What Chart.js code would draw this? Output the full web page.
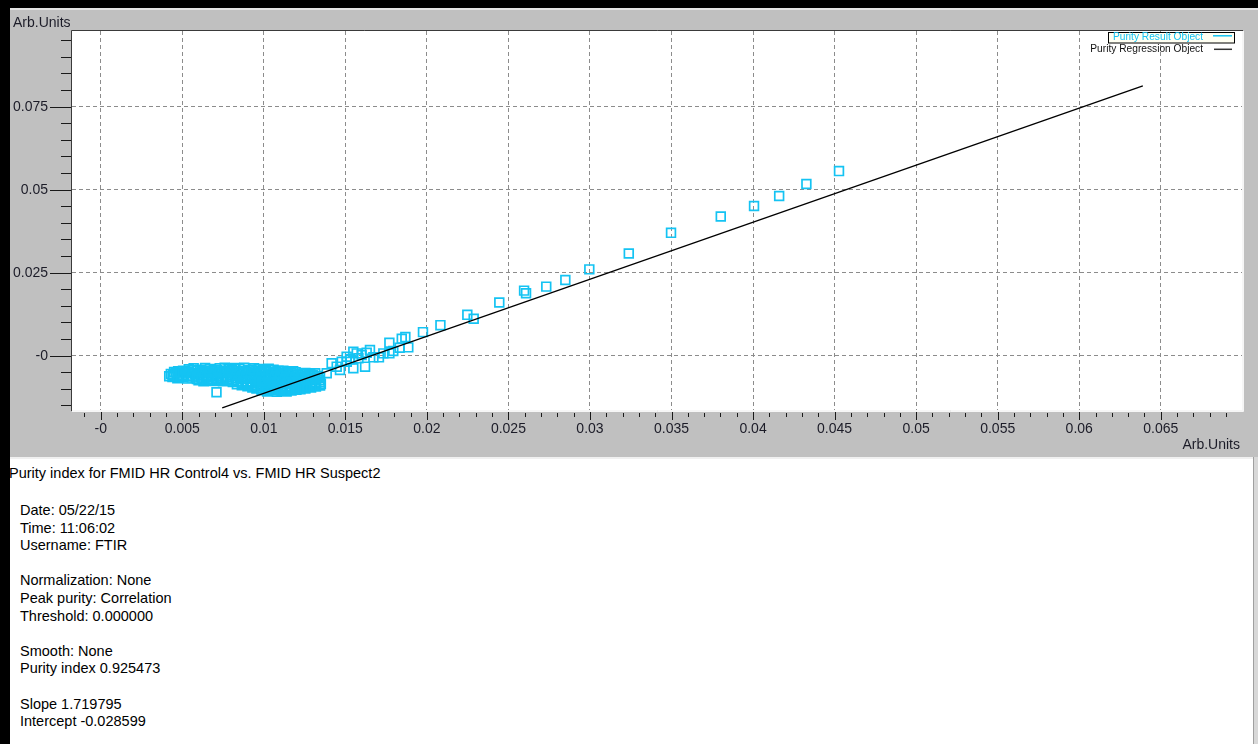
<!DOCTYPE html>
<html>
<head>
<meta charset="utf-8">
<script src="https://cdn.jsdelivr.net/npm/chart.js@4.4.1/dist/chart.umd.min.js"></script>
<style>
  html, body { margin: 0; padding: 0; }
  body { width: 1258px; height: 744px; background: #000; position: relative; overflow: hidden;
         font-family: "Liberation Sans", Arial, sans-serif; }
  #plotPanel { position: absolute; left: 10px; top: 8px; width: 1248px; height: 449px; background: #c0c0c0; }
  #plotPanel canvas { position: absolute; left: 0; top: 0; }
  #plotPanel .hl { position: absolute; left: 0; top: 0; width: 100%; height: 2px; background: #e4e4e4; }
  #infoPanel { position: absolute; left: 10px; top: 457px; width: 1243px; height: 287px; background: #fff;
               border-top: 2px solid #f0f0f0; box-sizing: border-box; color: #000; font-size: 14.5px; line-height: 17.6px; }
  #infoRight { position: absolute; left: 1253px; top: 457px; width: 5px; height: 287px; background: #d8d8d8; border-left: 1px solid #a0a0a0; }
  #infoPanel .head { position: absolute; left: -1px; top: 6px; white-space: nowrap; }
  #infoPanel .body { position: absolute; left: 10px; top: 43px; white-space: nowrap; }
</style>
</head>
<body>
<div id="plotPanel"><div class="hl"></div><canvas id="purityChart" width="1248" height="449"></canvas></div>
<div id="infoPanel">
  <div class="head">Purity index for FMID HR Control4 vs. FMID HR Suspect2</div>
  <div class="body">
    Date: 05/22/15<br>
    Time: 11:06:02<br>
    Username: FTIR<br>
    <br>
    Normalization: None<br>
    Peak purity: Correlation<br>
    Threshold: 0.000000<br>
    <br>
    Smooth: None<br>
    Purity index 0.925473<br>
    <br>
    Slope 1.719795<br>
    Intercept -0.028599
  </div>
</div>
<div id="infoRight"></div>
<script>
// axis ticks
const xTickValues = [0, 0.005, 0.01, 0.015, 0.02, 0.025, 0.03, 0.035, 0.04, 0.045, 0.05, 0.055, 0.06, 0.065];
const xTickLabels = ["-0", "0.005", "0.01", "0.015", "0.02", "0.025", "0.03", "0.035", "0.04", "0.045", "0.05", "0.055", "0.06", "0.065"];
const yTickValues = [0, 0.025, 0.05, 0.075];
const yTickLabels = ["-0", "0.025", "0.05", "0.075"];

// dense cluster of the purity result object (one line per row of overlapping squares)
const clusterX = [
  0.0054, 0.0057, 0.0061, 0.0064, 0.0067, 0.0070, 0.0073, 0.0076, 0.0079, 0.0082, 0.0085, 0.0088, 0.0091, 0.0094, 0.0097, 0.0100, 0.0103, 0.0106, 0.0109, 0.0112, 0.0115, 0.0118,
  0.00475, 0.00505, 0.00535, 0.00565, 0.00595, 0.00625, 0.00655, 0.00685, 0.00715, 0.00745, 0.00775, 0.00805, 0.00835, 0.00865, 0.00895, 0.00925, 0.00955, 0.00985, 0.01015, 0.01045, 0.01075, 0.01105, 0.01135, 0.01165, 0.01195, 0.01225, 0.01255, 0.01285, 0.01315,
  0.0043, 0.0046, 0.0049, 0.0052, 0.0055, 0.0058, 0.0061, 0.0064, 0.0067, 0.0070, 0.0073, 0.0076, 0.0079, 0.0082, 0.0085, 0.0088, 0.0091, 0.0094, 0.0097, 0.0100, 0.0103, 0.0106, 0.0109, 0.0112, 0.0115, 0.0118, 0.0121, 0.0124, 0.0127, 0.0130, 0.0133,
  0.00445, 0.00475, 0.00505, 0.00535, 0.00565, 0.00595, 0.00625, 0.00655, 0.00685, 0.00715, 0.00745, 0.00775, 0.00805, 0.00835, 0.00865, 0.00895, 0.00925, 0.00955, 0.00985, 0.01015, 0.01045, 0.01075, 0.01105, 0.01135, 0.01165, 0.01195, 0.01225, 0.01255, 0.01285, 0.01315, 0.01345,
  0.0044, 0.0047, 0.0050, 0.0053, 0.0056, 0.0059, 0.0062, 0.0065, 0.0068, 0.0071, 0.0074, 0.0077, 0.0080, 0.0083, 0.0086, 0.0089, 0.0092, 0.0095, 0.0098, 0.0101, 0.0104, 0.0107, 0.0110, 0.0113, 0.0116, 0.0119, 0.0122, 0.0125, 0.0128, 0.0131, 0.0134,
  0.00655, 0.00685, 0.00715, 0.00745, 0.00775, 0.00805, 0.00835, 0.00865, 0.00895, 0.00925, 0.00955, 0.00985, 0.01015, 0.01045, 0.01075, 0.01105, 0.01135, 0.01165, 0.01195, 0.01225, 0.01255, 0.01285, 0.01315, 0.01345,
  0.0060, 0.0063, 0.0066, 0.0069, 0.0072, 0.0075, 0.0078, 0.0081, 0.0084, 0.0087, 0.0090, 0.0093, 0.0096, 0.0099, 0.0102, 0.0105, 0.0108, 0.0111, 0.0114, 0.0117, 0.0120, 0.0123, 0.0126, 0.0129, 0.0132, 0.0135,
  0.00835, 0.00865, 0.00895, 0.00925, 0.00955, 0.00985, 0.01015, 0.01045, 0.01075, 0.01105, 0.01135, 0.01165, 0.01195, 0.01225, 0.01255, 0.01285, 0.01315, 0.01345,
  0.0090, 0.0093, 0.0096, 0.0099, 0.0102, 0.0105, 0.0108, 0.0111, 0.0114, 0.0117, 0.0120, 0.0123, 0.0126, 0.0129, 0.0132,
  0.00955, 0.00985, 0.01015, 0.01045, 0.01075, 0.01105, 0.01135, 0.01165, 0.01195, 0.01225, 0.01255,
  0.0099, 0.0102, 0.0105, 0.0108, 0.0111, 0.0114, 0.0117, 0.0120,
  0.0071, 0.0042, 0.0045
];
const clusterY = [
  -0.0041, -0.0038, -0.0042, -0.0037, -0.0040, -0.0043, -0.0038, -0.0036, -0.0041, -0.0037, -0.0039, -0.0036, -0.0042, -0.0038, -0.0040, -0.0044, -0.0039, -0.0042, -0.0045, -0.0045, -0.0048, -0.0047,
  -0.0047, -0.0045, -0.0048, -0.0044, -0.0046, -0.0049, -0.0045, -0.0047, -0.0044, -0.0048, -0.0046, -0.0043, -0.0047, -0.0045, -0.0048, -0.0044, -0.0046, -0.0049, -0.0045, -0.0048, -0.0050, -0.0047, -0.0051, -0.0053, -0.0050, -0.0054, -0.0052, -0.0055, -0.0053,
  -0.0055, -0.0051, -0.0054, -0.0050, -0.0053, -0.0056, -0.0052, -0.0054, -0.0051, -0.0055, -0.0053, -0.0050, -0.0054, -0.0052, -0.0055, -0.0051, -0.0053, -0.0056, -0.0052, -0.0054, -0.0057, -0.0053, -0.0055, -0.0058, -0.0054, -0.0057, -0.0059, -0.0056, -0.0060, -0.0058, -0.0061,
  -0.0059, -0.0061, -0.0058, -0.0062, -0.0060, -0.0063, -0.0059, -0.0061, -0.0058, -0.0062, -0.0060, -0.0063, -0.0059, -0.0061, -0.0064, -0.0060, -0.0062, -0.0059, -0.0063, -0.0061, -0.0064, -0.0062, -0.0065, -0.0063, -0.0066, -0.0064, -0.0067, -0.0065, -0.0068, -0.0066, -0.0067,
  -0.0064, -0.0068, -0.0065, -0.0069, -0.0066, -0.0070, -0.0067, -0.0065, -0.0069, -0.0066, -0.0068, -0.0065, -0.0069, -0.0067, -0.0070, -0.0066, -0.0068, -0.0071, -0.0067, -0.0069, -0.0072, -0.0068, -0.0070, -0.0073, -0.0069, -0.0071, -0.0074, -0.0070, -0.0073, -0.0071, -0.0074,
  -0.0071, -0.0073, -0.0070, -0.0074, -0.0072, -0.0075, -0.0076, -0.0078, -0.0077, -0.0080, -0.0078, -0.0081, -0.0079, -0.0082, -0.0080, -0.0083, -0.0081, -0.0079, -0.0082, -0.0080, -0.0078, -0.0081, -0.0079, -0.0080,
  -0.0074, -0.0077, -0.0073, -0.0076, -0.0074, -0.0077, -0.0075, -0.0079, -0.0078, -0.0082, -0.0080, -0.0084, -0.0081, -0.0085, -0.0082, -0.0086, -0.0083, -0.0087, -0.0084, -0.0086, -0.0083, -0.0087, -0.0084, -0.0086, -0.0083, -0.0085,
  -0.0086, -0.0089, -0.0087, -0.0090, -0.0088, -0.0091, -0.0089, -0.0092, -0.0090, -0.0093, -0.0091, -0.0093, -0.0090, -0.0092, -0.0089, -0.0091, -0.0088, -0.0090,
  -0.0092, -0.0096, -0.0093, -0.0097, -0.0094, -0.0098, -0.0095, -0.0099, -0.0096, -0.0098, -0.0095, -0.0097, -0.0094, -0.0096, -0.0093,
  -0.0099, -0.0102, -0.0100, -0.0103, -0.0101, -0.0104, -0.0102, -0.0100, -0.0103, -0.0101, -0.0099,
  -0.0104, -0.0108, -0.0105, -0.0109, -0.0106, -0.0108, -0.0105, -0.0103,
  -0.0110, -0.0062, -0.0049
];

// the rising tail of the purity result object
const tailX = [0.01386, 0.01416, 0.01447, 0.01467, 0.01478, 0.01508, 0.01509, 0.01529, 0.01549, 0.01549,
  0.0157, 0.0158, 0.0160, 0.01621, 0.01631, 0.01651, 0.01672, 0.01706, 0.01733, 0.0177,
  0.0177, 0.01794, 0.01833, 0.01886, 0.01846, 0.01868, 0.01976, 0.02083, 0.02248, 0.02287,
  0.02444, 0.02596, 0.02608, 0.02732, 0.02849, 0.02996, 0.03238, 0.03497, 0.03802, 0.04006,
  0.0416, 0.04327, 0.04527];
const tailY = [-0.0053, -0.0023, -0.0033, -0.0043, -0.0018, -0.0003, -0.0018, -0.0011, 0.0012, -0.0038,
  0.0007, -0.0008, 0.0002, -0.0033, 0.0009, 0.0017, -0.0005, -0.0005, 0.0007, 0.0007,
  0.0039, 0.0014, 0.0024, 0.0025, 0.0051, 0.0056, 0.0071, 0.0092, 0.0123, 0.0111,
  0.0160, 0.0196, 0.0188, 0.0208, 0.0228, 0.0260, 0.0308, 0.0370, 0.0419, 0.0451,
  0.0481, 0.0517, 0.0556];

// purity regression object, end points
const fitX = [0.00745, 0.0639];
const fitY = [-0.0157, 0.0813];

const cyan = "#14c3f3";

const resultPoints = clusterX.map((x, i) => ({ x: x, y: clusterY[i] }))
  .concat(tailX.map((x, i) => ({ x: x, y: tailY[i] })));
const fitPoints = fitX.map((x, i) => ({ x: x, y: fitY[i] }));

const plotFrame = {
  id: "plotFrame",
  beforeDraw(chart) {
    const { ctx, chartArea: a } = chart;
    ctx.save();
    ctx.fillStyle = "#fff";
    ctx.fillRect(a.left, a.top, a.right - a.left, a.bottom - a.top);
    ctx.restore();
  },
  afterDraw(chart) {
    const { ctx, chartArea: a } = chart;
    const xs = chart.scales.x, ys = chart.scales.y;
    ctx.save();
    // sunken border
    ctx.lineWidth = 1;
    ctx.strokeStyle = "#f6f6f6";
    ctx.beginPath();
    ctx.moveTo(a.right + 0.5, a.top); ctx.lineTo(a.right + 0.5, a.bottom + 1.5);
    ctx.moveTo(a.right + 1.5, a.top); ctx.lineTo(a.right + 1.5, a.bottom + 1.5);
    ctx.moveTo(a.left, a.bottom + 0.5); ctx.lineTo(a.right + 1.5, a.bottom + 0.5);
    ctx.moveTo(a.left, a.bottom + 1.5); ctx.lineTo(a.right + 1.5, a.bottom + 1.5);
    ctx.stroke();
    ctx.strokeStyle = "#3a3a3a";
    ctx.beginPath();
    ctx.moveTo(a.left - 0.5, a.bottom + 1); ctx.lineTo(a.left - 0.5, a.top - 0.5); ctx.lineTo(a.right + 1, a.top - 0.5);
    ctx.stroke();

    // tick marks
    ctx.strokeStyle = "#1a1a1a";
    ctx.beginPath();
    for (let k = -1; k <= 69; k++) {
      const px = Math.round(xs.getPixelForValue(k / 1000)) + 0.5;
      const major = k % 5 === 0;
      ctx.moveTo(px, a.bottom + (major ? 2 : 3));
      ctx.lineTo(px, a.bottom + (major ? 10 : 7));
    }
    for (let k = -3; k <= 19; k++) {
      const py = Math.round(ys.getPixelForValue(k / 200)) + 0.5;
      const major = k % 5 === 0;
      ctx.moveTo(a.left - (major ? 22 : 11), py);
      ctx.lineTo(a.left - 1, py);
    }
    ctx.stroke();

    // axis unit labels
    ctx.fillStyle = "#1c1c28";
    ctx.font = '14px "Liberation Sans", Arial, sans-serif';
    ctx.textBaseline = "middle";
    ctx.textAlign = "left";
    ctx.fillText("Arb.Units", 3, 15);
    ctx.textAlign = "right";
    ctx.fillText("Arb.Units", 1230, 437);

    // legend
    ctx.fillStyle = "#fffff2";
    ctx.fillRect(1098.5, 24.5, 126, 10.5);
    ctx.strokeStyle = "#000";
    ctx.strokeRect(1098.5, 24.5, 126, 10.5);
    ctx.font = '10.2px "Liberation Sans", Arial, sans-serif';
    ctx.textAlign = "right";
    ctx.fillStyle = cyan;
    ctx.fillText("Purity Result Object", 1193, 29.5);
    ctx.fillStyle = "#111";
    ctx.fillText("Purity Regression Object", 1193, 41);
    ctx.lineWidth = 1.5;
    ctx.strokeStyle = cyan;
    ctx.beginPath(); ctx.moveTo(1203, 27.8); ctx.lineTo(1222, 27.8); ctx.stroke();
    ctx.strokeStyle = "#333";
    ctx.beginPath(); ctx.moveTo(1204, 41.3); ctx.lineTo(1222, 41.3); ctx.stroke();
    ctx.restore();
  }
};

// keep the plot box where the reference has it, whatever the tick padding
function fixBox(width, height) {
  return (s) => {
    if (width) s.width = width;
    if (height) s.height = height;
    s.paddingTop = 0; s.paddingBottom = 0; s.paddingLeft = 0; s.paddingRight = 0;
  };
}

Chart.defaults.font.family = '"Liberation Sans", Arial, sans-serif';

new Chart(document.getElementById("purityChart"), {
  type: "scatter",
  data: {
    datasets: [
      {
        label: "Purity Regression Object",
        type: "line",
        data: fitPoints,
        borderColor: "#000",
        borderWidth: 1.3,
        pointRadius: 0,
        fill: false,
        order: 0,
      },
      {
        label: "Purity Result Object",
        data: resultPoints,
        pointStyle: "rect",
        pointRadius: 6.2,
        borderWidth: 1.7,
        borderColor: cyan,
        backgroundColor: "rgba(0,0,0,0)",
        order: 1,
      },
    ],
  },
  options: {
    responsive: false,
    devicePixelRatio: 1,
    animation: false,
    events: [],
    layout: { padding: { left: 0, top: 23, right: 16, bottom: 0 } },
    plugins: {
      legend: { display: false },
      tooltip: { enabled: false },
    },
    scales: {
      x: {
        type: "linear",
        position: "bottom",
        min: -0.00176,
        max: 0.06998,
        afterBuildTicks: (s) => { s.ticks = xTickValues.map((v) => ({ value: v })); },
        afterFit: fixBox(0, 47),
        ticks: {
          autoSkip: false,
          maxRotation: 0,
          padding: 11,
          color: "#1c1c28",
          font: { size: 14 },
          callback: (v, i) => xTickLabels[i],
        },
        grid: { color: "#8c8c8c", drawTicks: false, lineWidth: 1 },
        border: { display: false, dash: [4, 3] },
      },
      y: {
        type: "linear",
        min: -0.01636,
        max: 0.0978,
        afterBuildTicks: (s) => { s.ticks = yTickValues.map((v) => ({ value: v })); },
        afterFit: fixBox(62, 0),
        ticks: {
          autoSkip: false,
          padding: 24,
          color: "#1c1c28",
          font: { size: 14 },
          callback: (v, i) => yTickLabels[i],
        },
        grid: { color: "#8c8c8c", drawTicks: false, lineWidth: 1 },
        border: { display: false, dash: [4, 3] },
      },
    },
  },
  plugins: [plotFrame],
});
</script>
</body>
</html>
